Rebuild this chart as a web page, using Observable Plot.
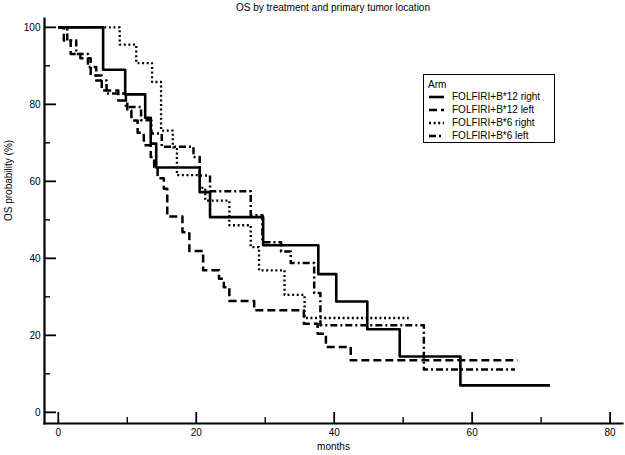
<!DOCTYPE html>
<html><head><meta charset="utf-8">
<script src="https://cdn.jsdelivr.net/npm/d3@7"></script>
<script src="https://cdn.jsdelivr.net/npm/@observablehq/plot@0.6"></script>
<style>
body{margin:0;background:#fff;font-family:"Liberation Sans",Arial,sans-serif;color:#000;}
#wrap{position:relative;width:625px;height:455px;}
#title{position:absolute;top:2px;left:44px;width:578px;text-align:center;font-size:10px;line-height:12px;}
#legend{position:absolute;left:423px;top:74px;width:130px;height:67px;border:1px solid #000;background:#fff;font-size:10px;}
#legend .hd{position:absolute;left:4px;top:4px;line-height:12px;}
#legend .row{position:absolute;left:4px;height:12px;line-height:12px;white-space:nowrap;}
#legend .row svg{position:absolute;left:0;top:0;}
#legend .row span{position:absolute;left:24px;top:0;}
</style></head>
<body><div id="wrap"><div id="title"></div><div id="chart"></div><div id="legend"></div></div>
<script>
// ---- data ----
const title = "OS by treatment and primary tumor location";
const xLabel = "months";
const yLabel = "OS probability (%)";
const legendTitle = "Arm";
const arms = ["FOLFIRI+B*12 right", "FOLFIRI+B*12 left", "FOLFIRI+B*6 right", "FOLFIRI+B*6 left"];
const dashes = [null, "8,4", "2,2.6", "7,3,2,3"];
const widths = [2.6, 2.5, 2.3, 2.5];

const b12RightTime = [0, 6.5, 9.7, 12.6, 13.4, 14.2, 20.5, 22.0, 29.7, 37.7, 40.3, 44.8, 49.5, 58.3, 71.3];
const b12RightSurv = [100, 89.0, 82.6, 76.5, 69.8, 63.6, 57.2, 50.7, 43.4, 35.9, 28.8, 21.6, 14.5, 7.0, 7.0];

const b12LeftTime = [0, 0.8, 1.8, 3.2, 4.7, 6.3, 8.7, 10.0, 10.6, 11.5, 12.4, 13.4, 13.9, 14.4, 15.3, 15.8, 18.0, 19.0, 21.0, 23.3, 24.0, 24.8, 28.4, 35.6, 37.6, 38.8, 42.4, 66.6];
const b12LeftSurv = [100, 96.6, 93.1, 92.0, 87.5, 83.6, 81.0, 78.4, 75.8, 72.6, 69.4, 66.3, 63.7, 60.8, 58.1, 50.9, 46.8, 41.9, 36.9, 34.7, 32.5, 28.9, 26.5, 23.0, 20.4, 17.0, 13.5, 13.5];

const b6RightTime = [0, 8.9, 11.3, 13.6, 14.9, 16.6, 17.2, 20.5, 21.3, 24.8, 27.9, 29.1, 32.8, 35.7, 50.8];
const b6RightSurv = [100, 95.5, 90.7, 85.8, 73.2, 68.8, 61.6, 58.3, 55.0, 48.6, 42.9, 36.9, 30.5, 24.5, 24.5];

const b6LeftTime = [0, 1.3, 2.6, 4.3, 5.5, 7.0, 9.8, 12.0, 13.5, 15.0, 19.6, 20.5, 22.0, 27.9, 29.6, 32.3, 33.7, 37.1, 38.0, 53.0, 66.2];
const b6LeftSurv = [100, 96.6, 93.1, 89.7, 86.2, 82.8, 79.3, 75.9, 72.4, 69.0, 66.3, 61.5, 57.4, 51.2, 44.2, 41.8, 38.8, 31.0, 22.6, 11.1, 11.1];

const xMajor = [0, 20, 40, 60, 80];
const xMinor = [10, 30, 50, 70];
const yMajor = [0, 20, 40, 60, 80, 100];
const yMinor = [10, 30, 50, 70, 90];

// ---- build ----
const series = [
  [b12RightTime, b12RightSurv],
  [b12LeftTime, b12LeftSurv],
  [b6RightTime, b6RightSurv],
  [b6LeftTime, b6LeftSurv]
].map(([t, s], i) => t.map((v, j) => ({arm: arms[i], t: v, s: s[j]})));

const W = 625, H = 455, mL = 44, mR = 3, mT = 18, mB = 32;
const fw = W - mL - mR, fh = H - mT - mB;

const chart = Plot.plot({
  width: W, height: H,
  marginLeft: mL, marginRight: mR, marginTop: mT, marginBottom: mB,
  style: {fontFamily: "'Liberation Sans', Arial, sans-serif", fontSize: "10px", color: "#000", background: "#fff", overflow: "visible"},
  x: {domain: [-2, 81.8]},
  y: {domain: [-2.9, 102.3]},
  marks: [
    Plot.axisX({ticks: xMajor, tickSize: 0, tickPadding: 5, label: null}),
    Plot.axisY({ticks: yMajor, tickSize: 0, tickPadding: 4, label: null}),
    Plot.tickX(xMajor, {x: d => d, insetTop: fh - 11, strokeWidth: 1.8}),
    Plot.tickX(xMinor, {x: d => d, insetTop: fh - 6, strokeWidth: 1.4}),
    Plot.tickY(yMajor, {y: d => d, insetRight: fw - 12, strokeWidth: 1.8}),
    Plot.tickY(yMinor, {y: d => d, insetRight: fw - 6, strokeWidth: 1.4}),
    ...series.map((d, i) => Plot.line(d, {x: "t", y: "s", curve: "step-after", stroke: "#000", strokeWidth: widths[i], strokeDasharray: dashes[i], strokeLinecap: "butt"})),
    Plot.frame({anchor: "left", strokeWidth: 2.2}),
    Plot.frame({anchor: "bottom", strokeWidth: 2.2}),
    Plot.text([xLabel], {frameAnchor: "bottom", dy: 23, lineAnchor: "middle", fontSize: 10}),
    Plot.text([yLabel], {frameAnchor: "left", dx: -36, rotate: -90, fontSize: 10})
  ]
});
document.getElementById("chart").appendChild(chart);
document.getElementById("title").textContent = title;

// legend
const lg = document.getElementById("legend");
const hd = document.createElement("div"); hd.className = "hd"; hd.textContent = legendTitle; lg.appendChild(hd);
const rowTops = [16, 29, 41.5, 54.5];
arms.forEach((a, i) => {
  const r = document.createElement("div"); r.className = "row"; r.style.top = rowTops[i] + "px";
  const svg = d3.create("svg").attr("width", 18).attr("height", 12);
  svg.append("line").attr("x1", 1).attr("x2", 16).attr("y1", 6).attr("y2", 6)
    .attr("stroke", "#000").attr("stroke-width", widths[i]).attr("stroke-dasharray", dashes[i]);
  r.appendChild(svg.node());
  const sp = document.createElement("span"); sp.textContent = a; r.appendChild(sp);
  lg.appendChild(r);
});
</script></body></html>
